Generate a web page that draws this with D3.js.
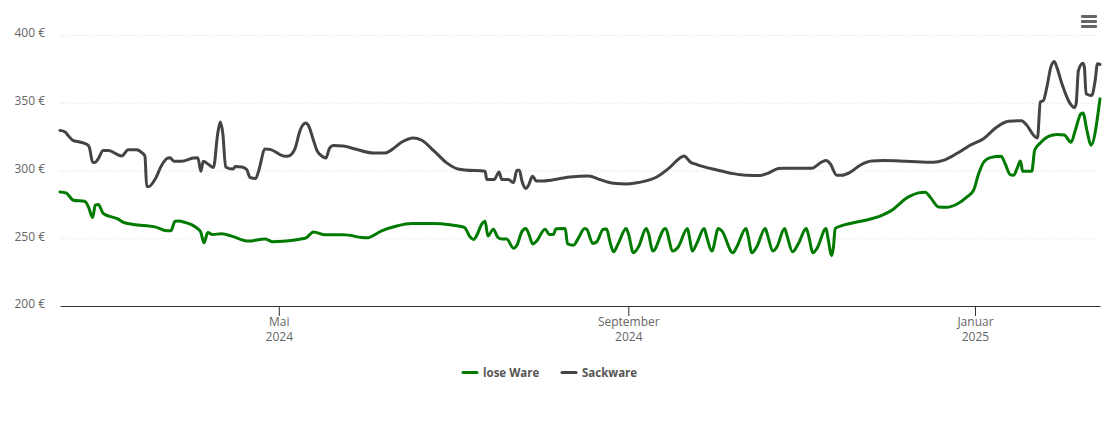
<!DOCTYPE html>
<html>
<head>
<meta charset="utf-8">
<script src="https://cdn.jsdelivr.net/npm/d3@7"></script>
<style>
  html, body { margin: 0; padding: 0; background: #fff; }
  svg { display: block; font-family: "Open Sans", sans-serif; }
  .tick text { fill: #666; font-family: "Open Sans", sans-serif; font-size: 12px; }
  .grid line { stroke: #dcdcdc; stroke-dasharray: 1 2; }
  .legend text { fill: #555; font-size: 11.5px; font-weight: 700; }
</style>
</head>
<body>
<svg id="chart" width="1110" height="423"></svg>
<script>
// days counted from the first date of the series
var startDate = '2024-02-14';
var spanDays = 366;

var looseDays = [0, 2.1, 4.7, 8.8, 10, 11.5, 12.4, 13.5, 15.2, 20.5, 22.3, 25.8, 33.4, 37.6, 39, 40.5, 41.6, 44, 48.1, 49.5,
  50.7, 52, 53.6, 56.9, 60.4, 66.3, 72.2, 74.9, 78.6, 83.9, 86.8, 89.2, 93.3, 99.7, 108, 113.2, 118.5, 123.8, 131.4, 137.3,
  142.3, 144.3, 145.5, 146.7, 148.4, 149.6, 150.6, 152.5, 154.1, 155.5, 157.2, 159.6, 160.8, 162.5, 163.9, 164.9, 166.4, 167.8, 170.7, 172.2,
  173.6, 174.6, 177.8, 178.6, 180.7, 182.4, 184.6, 185.4, 187.5, 188.9, 191.2, 192.4, 193.4, 194.8, 196.5, 199.2, 200, 201.8, 203.6, 206.3,
  207.1, 208.6, 213, 215.7, 217.6, 220.8, 221.5, 222.5, 224.1, 226.7, 227.6, 229.4, 231.7, 232.9, 236.8, 238.2, 241.4, 242.1, 243.5, 245.2,
  248.2, 249, 250.9, 252.3, 255, 255.8, 257.8, 259.9, 262.6, 263.4, 265, 266.4, 269.6, 270.2, 271.6, 272.2, 272.8, 274.6, 278.1, 283.4,
  288.6, 292.2, 298.6, 302.1, 304.5, 306.2, 309.2, 312.1, 315.6, 319.2, 321.5, 323.3, 325, 327.4, 331.2, 332.6, 334.4, 335.6, 336.8, 338,
  338.8, 342, 343, 345, 347.9, 350.9, 353.4, 355.8, 357.3, 359.3, 360, 361.4, 362.8, 366];
var looseValues = [284.2, 283.5, 278.1, 277.1, 273.1, 265.3, 274.4, 274.9, 268.3, 264.1, 261.7, 260.2, 258.4, 255.5, 255.5, 262.6, 262.8, 261.7, 257.7, 254.7,
  246.6, 254.3, 252.8, 253.3, 251.6, 247.9, 249.4, 247.4, 247.7, 249.1, 250.5, 254.7, 252.5, 252.5, 250.3, 255.5, 259.1, 260.9, 260.9, 259.9,
  258, 251, 249.1, 252.3, 260.4, 262.6, 251.6, 256.7, 250.6, 249.4, 249.4, 242.7, 244.9, 254.7, 257.2, 253.6, 245.7, 248.1, 256.7, 252.8,
  252.8, 257.1, 257.2, 245.9, 244.9, 249.9, 257.2, 256.5, 246.2, 247.4, 256.7, 256.9, 248.6, 240, 246.2, 257.2, 253.6, 239.3, 243.7, 257.2,
  253.6, 240.5, 257.2, 240.5, 243.7, 257.2, 251, 240.5, 246.2, 257.2, 251, 240.5, 257.2, 255.5, 239.3, 243.7, 257.2, 252.3, 239.3, 243.7,
  257.2, 252.3, 240.5, 243.7, 257.2, 252.3, 240, 246.2, 257.2, 252.3, 239.3, 242.5, 257.2, 251, 237.1, 243.7, 257.2, 258.9, 260.9, 263.3,
  266.3, 270, 280.5, 283.5, 284, 280.5, 273.1, 272.9, 275.1, 280.5, 285.4, 297.7, 305.9, 309.5, 310.5, 305.1, 297, 296.5, 301.4, 307,
  299.4, 299.4, 314.9, 320.3, 325.2, 326.5, 326.2, 320.8, 329.6, 341.9, 342.4, 329.6, 318.6, 353];

var sackDays = [0, 1.8, 2.8, 4.5, 7, 9.4, 10.3, 11.5, 12.3, 13.5, 15.2, 17, 21.7, 24, 27, 28.8, 29.9, 30.5, 31.3, 33.4,
  35.8, 37.6, 38.7, 40.1, 42.8, 46.9, 48.5, 49.6, 50.4, 52.2, 54, 55.5, 56.4, 57.3, 58.3, 60.8, 61.7, 64, 65.7, 66.9,
  68.9, 69.8, 72.2, 73.9, 79.2, 80.4, 82.7, 84.5, 86.5, 87.4, 89.2, 90.4, 92.1, 93.6, 94.8, 96.2, 99.6, 103.8, 110.3, 114.4,
  116.8, 120.3, 124.4, 127.3, 131.4, 136.1, 139.6, 142.6, 149.6, 150.2, 152.8, 154.5, 155.5, 157.8, 159.6, 160.8, 161.7, 162.5, 164, 164.9,
  166.3, 167.6, 170.1, 176, 179.5, 186, 190.1, 194.8, 199.5, 203.6, 210, 214.1, 218.8, 219.6, 221.8, 224.1, 231.2, 237, 241.7, 246.4,
  248.8, 252.8, 254.6, 264.6, 268.1, 269.6, 271, 273.4, 275.2, 278.1, 281.6, 285.7, 289.8, 298, 307.4, 310.9, 315.6, 320.3, 325, 329.7,
  333.8, 338.3, 340.3, 342.6, 344, 345, 346.1, 347.3, 348.7, 349.9, 350.8, 352.6, 355.5, 357, 357.6, 358.4, 360, 360.5, 361.1, 363.1,
  364.3, 365.1, 366];
var sackValues = [329.6, 328.4, 326, 322.3, 321, 319.3, 317.3, 306, 305.9, 308.8, 314.7, 314.7, 310.7, 315.4, 315.4, 313.2, 310.5, 288.4, 288.2, 293.3,
  303.9, 308.8, 309.5, 306.8, 306.8, 309.2, 309.5, 299.4, 306.8, 304.6, 302.2, 327.2, 335.8, 327.2, 302.6, 301.1, 302.9, 302.6, 300.7, 294.8,
  294.1, 298.9, 315.9, 315.6, 310.5, 310.7, 316.2, 329.6, 335, 333.3, 322.3, 314.9, 310.7, 309.2, 316.2, 318.4, 318.1, 315.9, 312.9, 312.9,
  315.4, 321, 324, 322.3, 314.9, 305.6, 301.4, 300.4, 299.4, 293.3, 293.3, 298.9, 293.3, 293.3, 291.1, 300.2, 300.2, 292.8, 286.7, 289.1,
  295.8, 292.3, 292.3, 294.1, 295.2, 296, 293.3, 290.6, 290.1, 291.1, 295.2, 301.4, 310, 310.7, 306.3, 304.4, 300.4, 297.7, 296.5, 296.3,
  297.7, 301.4, 301.7, 301.7, 306.3, 307.3, 305.1, 296.5, 296.5, 298.7, 303.9, 307, 307.3, 306.8, 306.1, 307.5, 312.5, 318.6, 323.5, 332.1,
  336.3, 336.8, 333.3, 326, 324, 350.5, 351.7, 361.5, 376.3, 380.5, 376.3, 364, 349.3, 346.4, 349.3, 373.8, 379.2, 376.3, 356.7, 355.4,
  366.5, 378.8, 378.3];

var yTicks = [200, 250, 300, 350, 400];
var xTicks = ['2024-05-01', '2024-09-01', '2025-01-01'];
var xTickMonths = ['Mai', 'September', 'Januar'];
var xTickYears = ['2024', '2024', '2025'];
var seriesNames = ['lose Ware', 'Sackware'];
var seriesColors = ['#007a00', '#444444'];

var svg = d3.select('#chart');
var margin = {top: 35, right: 10, bottom: 117, left: 60};
var width = +svg.attr('width') - margin.left - margin.right;
var height = +svg.attr('height') - margin.top - margin.bottom;
var g = svg.append('g').attr('transform', 'translate(' + margin.left + ',' + margin.top + ')');

var start = new Date(startDate + 'T00:00:00Z');

function toDate (days) {
  return new Date(start.getTime() + days * 864e5);
}

var x = d3.scaleUtc().domain([start, toDate(spanDays)]).range([0, width]);
var y = d3.scaleLinear().domain([200, 400]).range([height, 0]);

// grid
g.append('g')
    .attr('class', 'grid')
    .call(d3.axisLeft(y).tickValues(yTicks.slice(1)).tickSize(-width).tickFormat(''))
    .call(function (sel) { sel.select('.domain').remove(); });

// y axis labels, sitting a little above their grid line
g.append('g')
    .attr('class', 'y axis')
    .call(d3.axisLeft(y).tickValues(yTicks).tickSize(0).tickPadding(15).tickFormat(function (d) { return d + ' €'; }))
    .call(function (sel) { sel.select('.domain').remove(); })
    .selectAll('.tick text')
    .attr('y', -2);

// x axis, two line labels
var xAxis = g.append('g')
    .attr('class', 'x axis')
    .attr('transform', 'translate(0,' + height + ')')
    .call(d3.axisBottom(x)
      .tickValues(xTicks.map(function (d) { return new Date(d + 'T00:00:00Z'); }))
      .tickSize(10)
      .tickSizeOuter(0)
      .tickFormat(''));

xAxis.select('.domain').attr('stroke', '#333');
xAxis.selectAll('.tick line').attr('stroke', '#333');
xAxis.selectAll('.tick text').each(function (d, i) {
  var text = d3.select(this).attr('y', 0).attr('dy', 0);
  text.append('tspan').attr('x', 0).attr('y', 20).text(xTickMonths[i]);
  text.append('tspan').attr('x', 0).attr('y', 35).text(xTickYears[i]);
});

var line = d3.line()
    .x(function (d) { return x(toDate(d[0])); })
    .y(function (d) { return y(d[1]); })
    .curve(d3.curveMonotoneX);

var seriesData = [d3.zip(looseDays, looseValues), d3.zip(sackDays, sackValues)];

g.selectAll('.line')
    .data(seriesData)
  .enter().append('path')
    .attr('class', 'line')
    .attr('fill', 'none')
    .attr('stroke', function (d, i) { return seriesColors[i]; })
    .attr('stroke-width', 3)
    .attr('stroke-linejoin', 'round')
    .attr('stroke-linecap', 'round')
    .attr('d', line);

// legend
var legend = svg.append('g').attr('class', 'legend');
var legendX = [463, 562];

seriesNames.forEach(function (name, i) {
  legend.append('line')
      .attr('x1', legendX[i])
      .attr('x2', legendX[i] + 14)
      .attr('y1', 372.5)
      .attr('y2', 372.5)
      .attr('stroke', seriesColors[i])
      .attr('stroke-width', 3)
      .attr('stroke-linecap', 'round');
  legend.append('text')
      .attr('x', legendX[i] + 20)
      .attr('y', 377)
      .text(name);
});

// context menu icon
var menuRows = [0, 5, 10];
svg.append('g')
    .selectAll('rect')
    .data(menuRows)
  .enter().append('rect')
    .attr('x', 1081)
    .attr('y', function (d) { return 15 + d; })
    .attr('width', 16)
    .attr('height', 3)
    .attr('rx', 1)
    .attr('fill', '#666');
</script>
</body>
</html>
